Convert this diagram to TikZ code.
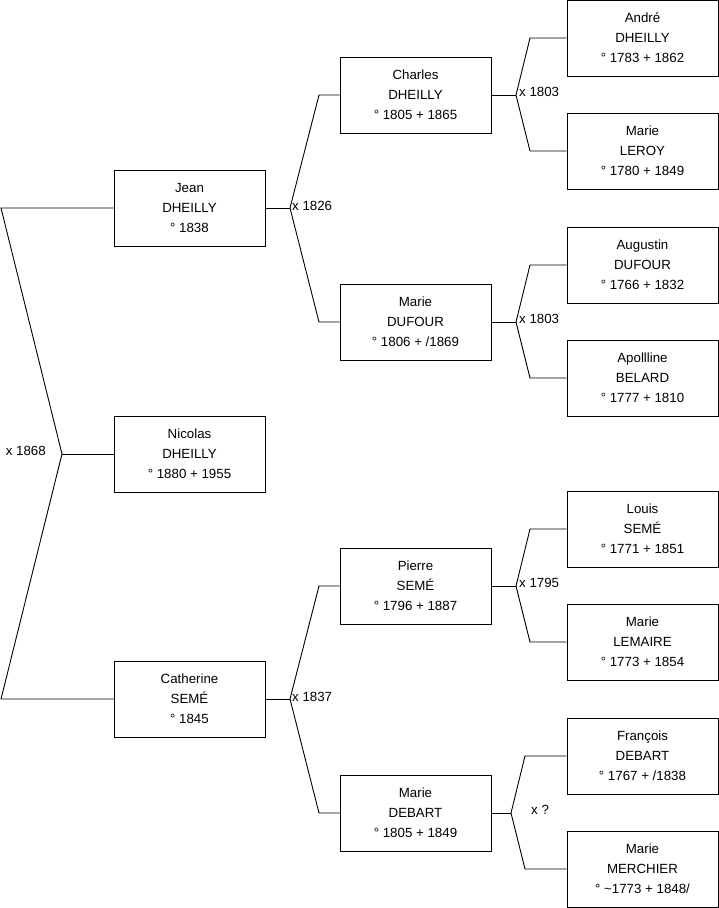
\documentclass[tikz,border=0pt]{standalone}
\usepackage{fontspec}
\setmainfont{Liberation Sans}
\begin{document}
\begin{tikzpicture}[x=1pt,y=-1pt,
  person/.style={draw=black,line width=0.9pt,minimum width=151pt,minimum height=76pt,inner sep=0pt,align=center,font=\fontsize{13.3}{20}\selectfont},
  link/.style={draw=black,line width=0.9pt},
  marr/.style={inner sep=0pt,font=\fontsize{13.3}{15}\selectfont}]
\useasboundingbox (0,0) rectangle (719,908);
% generation 1
\node[person] (jean) at (189.5,208) {Jean\\DHEILLY\\° 1838};
\node[person] (nicolas) at (189.5,454) {Nicolas\\DHEILLY\\° 1880 + 1955};
\node[person] (catherine) at (189.5,699) {Catherine\\SEMÉ\\° 1845};
% generation 2
\node[person] (charles) at (415.5,95) {Charles\\DHEILLY\\° 1805 + 1865};
\node[person] (dufour) at (415.5,322) {Marie\\DUFOUR\\° 1806 + /1869};
\node[person] (pierre) at (415.5,586) {Pierre\\SEMÉ\\° 1796 + 1887};
\node[person] (debart) at (415.5,813) {Marie\\DEBART\\° 1805 + 1849};
% generation 3
\node[person] (andre) at (642.5,38) {André\\DHEILLY\\° 1783 + 1862};
\node[person] (leroy) at (642.5,151) {Marie\\LEROY\\° 1780 + 1849};
\node[person] (augustin) at (642.5,265) {Augustin\\DUFOUR\\° 1766 + 1832};
\node[person] (belard) at (642.5,378) {Apollline\\BELARD\\° 1777 + 1810};
\node[person] (louis) at (642.5,529) {Louis\\SEMÉ\\° 1771 + 1851};
\node[person] (lemaire) at (642.5,642) {Marie\\LEMAIRE\\° 1773 + 1854};
\node[person] (francois) at (642.5,756) {François\\DEBART\\° 1767 + /1838};
\node[person] (merchier) at (642.5,869) {Marie\\MERCHIER\\° \textasciitilde1773 + 1848/};
% root connectors
\coordinate (r0) at (62,454);
\draw[link] (jean.west) -- (1,208) -- (r0) -- (1,699) -- (catherine.west);
\draw[link] (r0) -- (nicolas.west);
\node[marr,anchor=east] (m0) at (46,451) {x 1868};
% Jean
\coordinate (j0) at (290,208);
\draw[link] (jean.east) -- (j0);
\draw[link] (charles.west) -- (319,95) -- (j0) -- (319,322) -- (dufour.west);
\node[marr,anchor=west] (m1) at (292,206) {x 1826};
% Catherine
\coordinate (c0) at (290,699);
\draw[link] (catherine.east) -- (c0);
\draw[link] (pierre.west) -- (319,586) -- (c0) -- (319,813) -- (debart.west);
\node[marr,anchor=west] (m2) at (292,697) {x 1837};
% Charles
\coordinate (ch0) at (516,95);
\draw[link] (charles.east) -- (ch0);
\draw[link] (andre.west) -- (530,38) -- (ch0) -- (530,151) -- (leroy.west);
\node[marr,anchor=west] (m3) at (519,92) {x 1803};
% Dufour
\coordinate (d0) at (516,322);
\draw[link] (dufour.east) -- (d0);
\draw[link] (augustin.west) -- (530,265) -- (d0) -- (530,378) -- (belard.west);
\node[marr,anchor=west] (m4) at (519,319) {x 1803};
% Pierre
\coordinate (p0) at (516,586);
\draw[link] (pierre.east) -- (p0);
\draw[link] (louis.west) -- (530,529) -- (p0) -- (530,642) -- (lemaire.west);
\node[marr,anchor=west] (m5) at (519,583) {x 1795};
% Debart
\coordinate (db0) at (511,813);
\draw[link] (debart.east) -- (db0);
\draw[link] (francois.west) -- (525,756) -- (db0) -- (525,869) -- (merchier.west);
\node[marr,anchor=west] (m6) at (531,810) {x ?};
\end{tikzpicture}
\end{document}
